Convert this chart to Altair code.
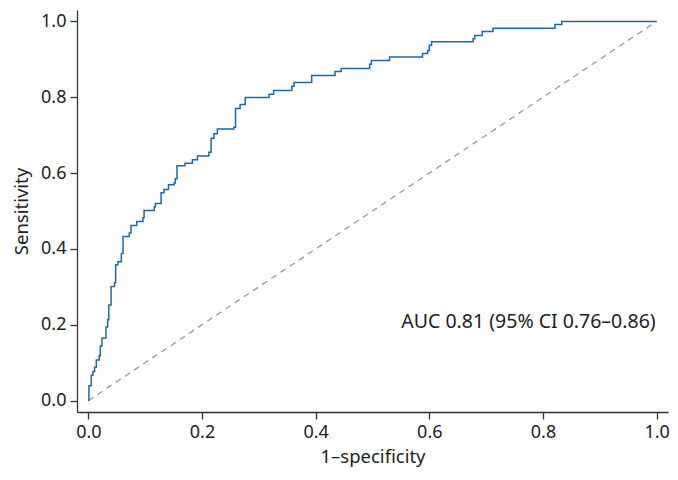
import altair as alt
import pandas as pd

fpr = [0, 0.001, 0.005, 0.008, 0.011, 0.014, 0.019, 0.021, 0.024, 0.031, 0.034, 0.036,
       0.040, 0.046, 0.048, 0.052, 0.058, 0.061, 0.072, 0.075, 0.085, 0.096, 0.098,
       0.116, 0.118, 0.128, 0.133, 0.141, 0.151, 0.153, 0.156, 0.170, 0.183, 0.192,
       0.212, 0.216, 0.221, 0.227, 0.256, 0.259, 0.267, 0.276, 0.318, 0.326, 0.358,
       0.362, 0.393, 0.434, 0.445, 0.495, 0.498, 0.530, 0.588, 0.597, 0.600, 0.604,
       0.677, 0.680, 0.693, 0.712, 0.821, 0.833, 1.0]
tpr = [0, 0.039, 0.067, 0.077, 0.088, 0.107, 0.118, 0.144, 0.165, 0.194, 0.213, 0.252,
       0.301, 0.311, 0.358, 0.366, 0.388, 0.433, 0.442, 0.462, 0.472, 0.482, 0.501,
       0.511, 0.520, 0.548, 0.557, 0.569, 0.574, 0.585, 0.619, 0.626, 0.635, 0.645,
       0.655, 0.692, 0.704, 0.716, 0.721, 0.770, 0.781, 0.799, 0.808, 0.818, 0.829,
       0.839, 0.857, 0.868, 0.876, 0.887, 0.897, 0.906, 0.915, 0.923, 0.937, 0.946,
       0.954, 0.963, 0.973, 0.982, 0.992, 1.0, 1.0]
diag_x = [0, 1]
diag_y = [0, 1]
tick_values = [0, 0.2, 0.4, 0.6, 0.8, 1.0]
auc_label = "AUC 0.81 (95% CI 0.76\u20130.86)"
auc_pos = (1.0, 0.206)

FONT = "Noto Sans"
roc = pd.DataFrame({"fpr": fpr, "tpr": tpr})
diag = pd.DataFrame({"fpr": diag_x, "tpr": diag_y})
lab = pd.DataFrame({"fpr": [auc_pos[0]], "tpr": [auc_pos[1]], "t": [auc_label]})

xscale = alt.Scale(domain=[-0.02, 1.02], nice=False, zero=False)
yscale = alt.Scale(domain=[-0.03, 1.03], nice=False, zero=False)
xaxis = alt.Axis(values=tick_values, format=".1f", title="1\u2013specificity",
                 titlePadding=6)
yaxis = alt.Axis(values=tick_values, format=".1f", title="Sensitivity",
                 titlePadding=9)

base_x = alt.X("fpr:Q", scale=xscale, axis=xaxis)
base_y = alt.Y("tpr:Q", scale=yscale, axis=yaxis)

diag_layer = alt.Chart(diag).mark_line(color="#9a9a9a", strokeDash=[6, 5], strokeWidth=1.3).encode(
    x=base_x, y=base_y)
roc_layer = alt.Chart(roc).mark_line(color="#2166a8", strokeWidth=1.5, interpolate="step-after").encode(
    x=base_x, y=base_y)
text_layer = alt.Chart(lab).mark_text(align="right", baseline="middle", font=FONT, fontSize=19.5,
                                      color="#222222", dx=-1).encode(x=base_x, y=base_y, text="t:N")

chart = alt.layer(diag_layer, roc_layer, text_layer).properties(
    width=591, height=402,
    autosize=alt.AutoSizeParams(type="none"),
    padding={"left": 69, "top": 2, "right": 2, "bottom": 56},
).configure_view(stroke=None).configure_axis(
    grid=False, domainColor="#333333", tickColor="#333333", labelColor="#222222",
    titleColor="#222222", labelFont=FONT, titleFont=FONT, labelFontSize=18,
    titleFontSize=18.5, titleFontWeight="normal", tickSize=7, labelPadding=4,
    domainWidth=1.3, tickWidth=1.3,
)

chart.save("out.html", embed_options={"renderer": "svg", "actions": False})
